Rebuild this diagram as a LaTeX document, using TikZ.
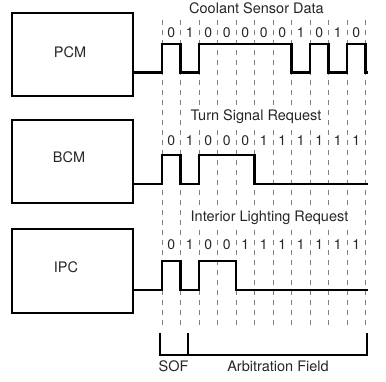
\documentclass[tikz,border=0pt]{standalone}
\usepackage{fontspec}
\setmainfont{TeX Gyre Heros}
\begin{document}
\begin{tikzpicture}[x=1pt, y=-1pt, line join=miter,
  ecu/.style={draw, line width=2.2pt, minimum width=121pt, minimum height=83pt, inner sep=0pt},
  lbl/.style={font=\fontsize{14.5}{16}\selectfont, text=black!85, inner sep=1pt},
  bit/.style={font=\fontsize{14}{15}\selectfont, text=black!85, inner sep=0pt},
  title/.style={lbl, fill=white, inner sep=2pt},
  gridline/.style={gray, line width=0.7pt, dash pattern=on 5pt off 5pt},
  wave/.style={line width=2.2pt}]
  \useasboundingbox (0,0) rectangle (386,382);

  % Bit time grid
  \foreach \k in {0,...,11}
    \draw[gridline] ({162+18.5*\k},20) -- ({162+18.5*\k},326);

  % Modules
  \node[ecu] (pcm) at (72.5,54.5) {};
  \node[ecu] (bcm) at (72.5,161.5) {};
  \node[ecu, minimum height=84pt] (ipc) at (72.5,271) {};
  \node[lbl] (pcmlbl) at (70,52) {PCM};
  \node[lbl] (bcmlbl) at (69,157) {BCM};
  \node[lbl] (ipclbl) at (66,267) {IPC};

  % Message titles
  \node[title] (pcmtitle) at (256.5,8) {Coolant Sensor Data};
  \node[title] (bcmtitle) at (256,117) {Turn Signal Request};
  \node[title] (ipctitle) at (269.5,218) {Interior Lighting Request};

  % Bit values
  \foreach \b [count=\k from 0] in {0,1,0,0,0,0,0,1,0,1,0}
    \node[bit] (pcmbit\k) at ({171.25+18.5*\k},33) {\b};
  \foreach \b [count=\k from 0] in {0,1,0,0,0,1,1,1,1,1,1}
    \node[bit] (bcmbit\k) at ({171.25+18.5*\k},141) {\b};
  \foreach \b [count=\k from 0] in {0,1,0,0,1,1,1,1,1,1,1}
    \node[bit] (ipcbit\k) at ({171.25+18.5*\k},245) {\b};

  % Bus waveforms
  \draw[wave] (pcm.east |- 0,72.5) -- (162,72.5) -- (162,44) -- (180.5,44)
    -- (180.5,72.5) -- (199,72.5) -- (199,44) -- (291.5,44) -- (291.5,72.5)
    -- (310,72.5) -- (310,44) -- (328.5,44) -- (328.5,72.5) -- (347,72.5)
    -- (347,44) -- (365.5,44) -- (365.5,72.5) -- (367.5,72.5);
  \draw[wave] (bcm.east |- 0,184) -- (162,184) -- (162,155) -- (180.5,155)
    -- (180.5,184) -- (199,184) -- (199,155) -- (254.5,155) -- (254.5,184)
    -- (367.5,184);
  \draw[wave] (ipc.east |- 0,290) -- (162,290) -- (162,261) -- (180.5,261)
    -- (180.5,290) -- (199,290) -- (199,261) -- (236,261) -- (236,290)
    -- (367.5,290);

  % Frame fields
  \coordinate (sofl) at (160,333);
  \coordinate (sofr) at (188,333);
  \coordinate (arbr) at (367,333);
  \draw[wave] (sofl) -- ++(0,22) -| (arbr);
  \draw[wave] (sofr) -- ++(0,22);
  \node[lbl] (sof) at (173.5,366) {SOF};
  \node[lbl] (arb) at (278,366) {Arbitration Field};
\end{tikzpicture}
\end{document}
